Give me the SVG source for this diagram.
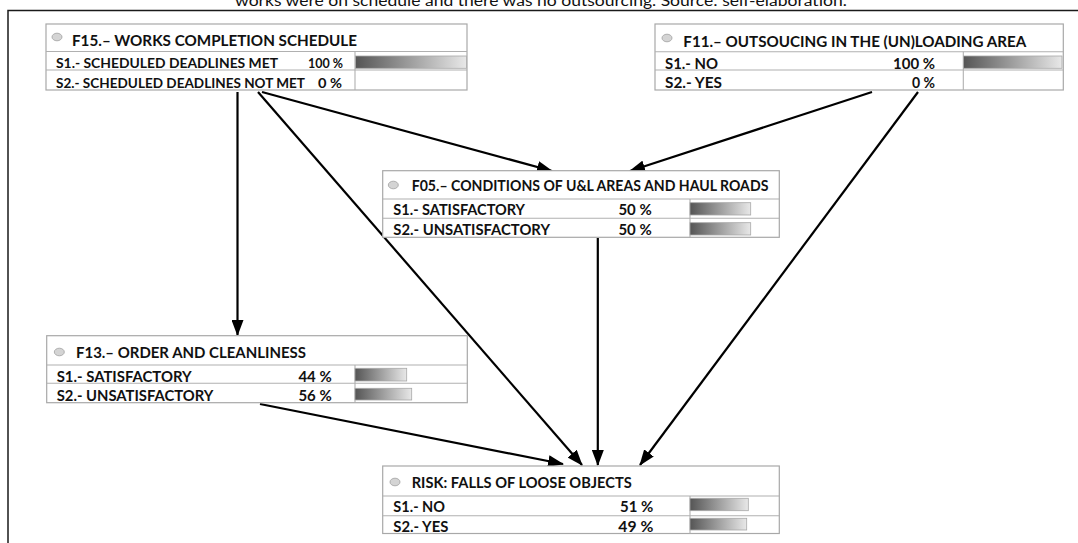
<svg xmlns="http://www.w3.org/2000/svg" width="1078" height="543" viewBox="0 0 1078 543">
<style>
.box{fill:#fff;stroke:#a8a8a8;stroke-width:1.2}
.sep{stroke:#b0b0b0;stroke-width:1.1}
.dot{fill:#d4d4d4;stroke:#a0a0a0;stroke-width:0.8}
.bar{fill:url(#bg);stroke:#a8a8a8;stroke-width:0.8}
text{font-family:Lato,"Liberation Sans",sans-serif;font-weight:bold;fill:#111}
.hd{font-size:16px}
.rw{font-size:15px}
.sm{font-size:14px}
.end{text-anchor:end}
.cap{font-weight:normal;font-size:15px;text-anchor:middle}
.con{stroke:#000;stroke-width:2.2;fill:none;marker-end:url(#ah)}
</style>
<defs>
<linearGradient id="bg" x1="0" y1="0" x2="1" y2="0">
<stop offset="0" stop-color="#555"/>
<stop offset="1" stop-color="#e8e8e8"/>
</linearGradient>
<marker id="ah" markerWidth="16" markerHeight="12" refX="15" refY="6" orient="auto" markerUnits="userSpaceOnUse">
<path d="M0,0 L16,6 L0,12 z" fill="#000"/>
</marker>
</defs>
<rect width="1078" height="543" fill="#fff"/>
<text class="cap" x="541" y="5.5" textLength="612" lengthAdjust="spacingAndGlyphs">works were on schedule and there was no outsourcing. Source: self-elaboration.</text>
<path d="M8,543 L8,10.5 L1078,10.5" fill="none" stroke="#1a1a1a" stroke-width="1.5"/>

<g id="connectors">
<path class="con" d="M237.5,92 L237.5,335"/>
<path class="con" d="M258,92 L582,465"/>
<path class="con" d="M262,92 L552,171"/>
<path class="con" d="M872,92 L630,171"/>
<path class="con" d="M918,92 L640,465"/>
<path class="con" d="M597.8,238 L597.8,465"/>
<path class="con" d="M260,404 L563,464"/>
</g>

<g id="f15">
<rect class="box" x="46" y="24" width="421" height="66"/>
<line class="sep" x1="46" y1="51.5" x2="467" y2="51.5"/>
<line class="sep" x1="46" y1="70" x2="467" y2="70"/>
<line class="sep" x1="355" y1="51.5" x2="355" y2="90"/>
<ellipse class="dot" cx="57" cy="37" rx="5" ry="3.8"/>
<text class="hd" x="72" y="46" textLength="285" lengthAdjust="spacingAndGlyphs">F15.– WORKS COMPLETION SCHEDULE</text>
<text class="sm" x="56" y="68.3" textLength="222" lengthAdjust="spacingAndGlyphs">S1.- SCHEDULED DEADLINES MET</text>
<text class="sm end" x="343" y="68.3" textLength="35" lengthAdjust="spacingAndGlyphs">100 %</text>
<text class="sm" x="56" y="88.3" textLength="249" lengthAdjust="spacingAndGlyphs">S2.- SCHEDULED DEADLINES NOT MET</text>
<text class="sm end" x="342" y="88.3" textLength="24" lengthAdjust="spacingAndGlyphs">0 %</text>
<rect class="bar" x="355.5" y="56" width="111" height="12.3"/>
</g>

<g id="f11">
<rect class="box" x="655" y="24" width="408.3" height="66"/>
<line class="sep" x1="655" y1="51.7" x2="1063.3" y2="51.7"/>
<line class="sep" x1="655" y1="70" x2="1063.3" y2="70"/>
<line class="sep" x1="963.3" y1="51.7" x2="963.3" y2="90"/>
<ellipse class="dot" cx="667" cy="38" rx="5" ry="3.8"/>
<text class="hd" x="683.3" y="46.5" textLength="343" lengthAdjust="spacingAndGlyphs">F11.– OUTSOUCING IN THE (UN)LOADING AREA</text>
<text class="rw" x="665" y="69" textLength="53" lengthAdjust="spacingAndGlyphs">S1.- NO</text>
<text class="rw end" x="935" y="69" textLength="42" lengthAdjust="spacingAndGlyphs">100 %</text>
<text class="rw" x="665" y="87.7" textLength="57" lengthAdjust="spacingAndGlyphs">S2.- YES</text>
<text class="rw end" x="935" y="87.7" textLength="23" lengthAdjust="spacingAndGlyphs">0 %</text>
<rect class="bar" x="963.5" y="56" width="98.5" height="12.3"/>
</g>

<g id="f05">
<rect class="box" x="382.7" y="170.7" width="396.6" height="66.6"/>
<line class="sep" x1="382.7" y1="199" x2="779.3" y2="199"/>
<line class="sep" x1="382.7" y1="218.3" x2="779.3" y2="218.3"/>
<line class="sep" x1="690" y1="199" x2="690" y2="237.3"/>
<ellipse class="dot" cx="393.3" cy="185" rx="5" ry="3.8"/>
<text class="hd" x="411.7" y="190.5" textLength="356.7" lengthAdjust="spacingAndGlyphs">F05.– CONDITIONS OF U&amp;L AREAS AND HAUL ROADS</text>
<text class="rw" x="393.3" y="215" textLength="131.7" lengthAdjust="spacingAndGlyphs">S1.- SATISFACTORY</text>
<text class="rw end" x="651.7" y="215" textLength="33.3" lengthAdjust="spacingAndGlyphs">50 %</text>
<text class="rw" x="393.3" y="234.5" textLength="156.7" lengthAdjust="spacingAndGlyphs">S2.- UNSATISFACTORY</text>
<text class="rw end" x="651.7" y="234.5" textLength="33.3" lengthAdjust="spacingAndGlyphs">50 %</text>
<rect class="bar" x="690" y="202.7" width="60.7" height="12.3"/>
<rect class="bar" x="690" y="222.7" width="60.7" height="12.3"/>
</g>

<g id="f13">
<rect class="box" x="46.7" y="335.7" width="420.6" height="67"/>
<line class="sep" x1="46.7" y1="365" x2="467.3" y2="365"/>
<line class="sep" x1="46.7" y1="383.3" x2="467.3" y2="383.3"/>
<line class="sep" x1="355" y1="365" x2="355" y2="402.7"/>
<ellipse class="dot" cx="59.3" cy="352" rx="5" ry="3.8"/>
<text class="hd" x="76" y="357.8" textLength="230" lengthAdjust="spacingAndGlyphs">F13.– ORDER AND CLEANLINESS</text>
<text class="rw" x="56.7" y="382" textLength="135" lengthAdjust="spacingAndGlyphs">S1.- SATISFACTORY</text>
<text class="rw end" x="331.7" y="382" textLength="33.3" lengthAdjust="spacingAndGlyphs">44 %</text>
<text class="rw" x="56.7" y="400.5" textLength="156.7" lengthAdjust="spacingAndGlyphs">S2.- UNSATISFACTORY</text>
<text class="rw end" x="331.7" y="400.5" textLength="33.3" lengthAdjust="spacingAndGlyphs">56 %</text>
<rect class="bar" x="355" y="368.3" width="51.7" height="12.7"/>
<rect class="bar" x="355" y="388.3" width="56.7" height="11.7"/>
</g>

<g id="risk">
<rect class="box" x="382.7" y="466" width="396.6" height="67.5"/>
<line class="sep" x1="382.7" y1="496" x2="779.3" y2="496"/>
<line class="sep" x1="382.7" y1="515.7" x2="779.3" y2="515.7"/>
<line class="sep" x1="690" y1="496" x2="690" y2="533.5"/>
<ellipse class="dot" cx="395" cy="482" rx="5" ry="3.8"/>
<text class="hd" x="411.7" y="487.8" textLength="220" lengthAdjust="spacingAndGlyphs">RISK: FALLS OF LOOSE OBJECTS</text>
<text class="rw" x="393.3" y="511.7" textLength="51.7" lengthAdjust="spacingAndGlyphs">S1.- NO</text>
<text class="rw end" x="653.3" y="511.7" textLength="33.3" lengthAdjust="spacingAndGlyphs">51 %</text>
<text class="rw" x="393.3" y="531.5" textLength="55" lengthAdjust="spacingAndGlyphs">S2.- YES</text>
<text class="rw end" x="653.3" y="531.5" textLength="35" lengthAdjust="spacingAndGlyphs">49 %</text>
<rect class="bar" x="690" y="498.3" width="58.3" height="12.4"/>
<rect class="bar" x="690" y="518.3" width="56.7" height="11.7"/>
</g>
</svg>
